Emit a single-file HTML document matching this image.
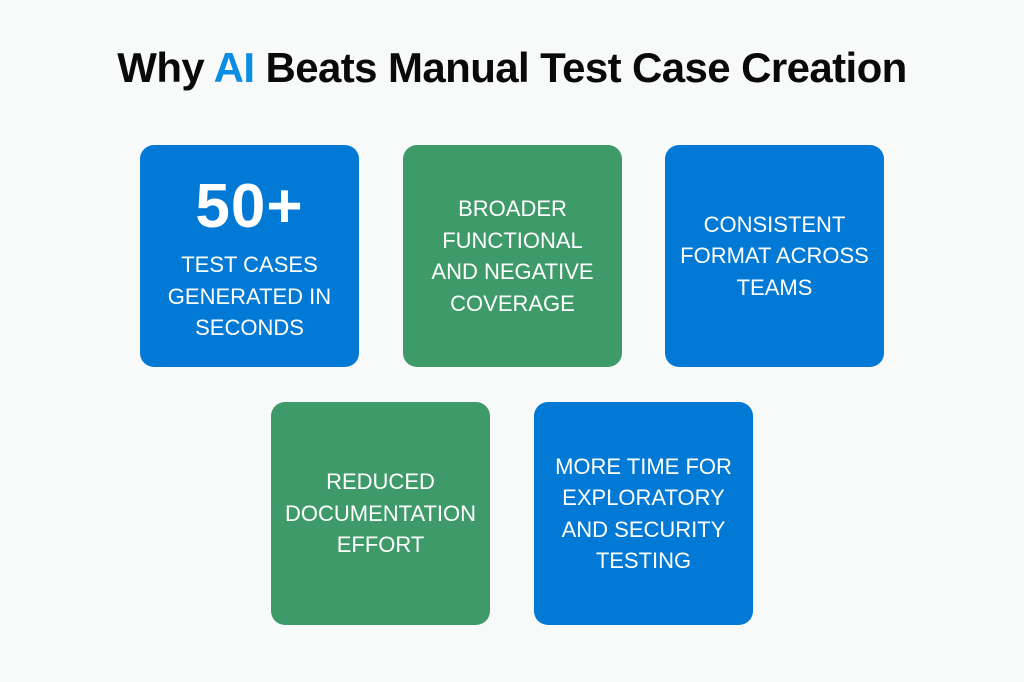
<!DOCTYPE html>
<html>
<head>
<meta charset="utf-8">
<style>
  html, body { margin:0; padding:0; }
  body { width:1024px; height:682px; background:#F8F9F9; position:relative; overflow:hidden; font-family:"Liberation Sans", Arial, sans-serif; }
  .title { position:absolute; left:0; top:40px; width:1024px; text-align:center; font-weight:bold; font-size:42px; line-height:56px; letter-spacing:-0.6px; color:#0a0a0a; white-space:nowrap; }
  .title .ai { color:#0B8DE3; }
  .box { position:absolute; width:219px; height:222px; border-radius:14px; display:flex; flex-direction:column; align-items:center; justify-content:center; color:#fff; text-align:center; font-size:22px; line-height:31.5px; }
  .blue { background:#0279D4; }
  .green { background:#3E9B69; }
  .big { font-weight:bold; font-size:62px; line-height:62px; letter-spacing:1px; }
</style>
</head>
<body>
  <div class="title">Why <span class="ai">AI</span> Beats Manual Test Case Creation</div>

  <div class="box blue" style="left:140px; top:145px; justify-content:flex-start;">
    <div class="big" style="margin-top:31px;">50+</div>
    <div style="margin-top:11px;">TEST CASES<br>GENERATED IN<br>SECONDS</div>
  </div>

  <div class="box green" style="left:403px; top:145px;">
    <div>BROADER<br>FUNCTIONAL<br>AND NEGATIVE<br>COVERAGE</div>
  </div>

  <div class="box blue" style="left:665px; top:145px;">
    <div>CONSISTENT<br>FORMAT ACROSS<br>TEAMS</div>
  </div>

  <div class="box green" style="left:271px; top:402px; height:223px;">
    <div>REDUCED<br>DOCUMENTATION<br>EFFORT</div>
  </div>

  <div class="box blue" style="left:534px; top:402px; height:223px;">
    <div>MORE TIME FOR<br>EXPLORATORY<br>AND SECURITY<br>TESTING</div>
  </div>
</body>
</html>
